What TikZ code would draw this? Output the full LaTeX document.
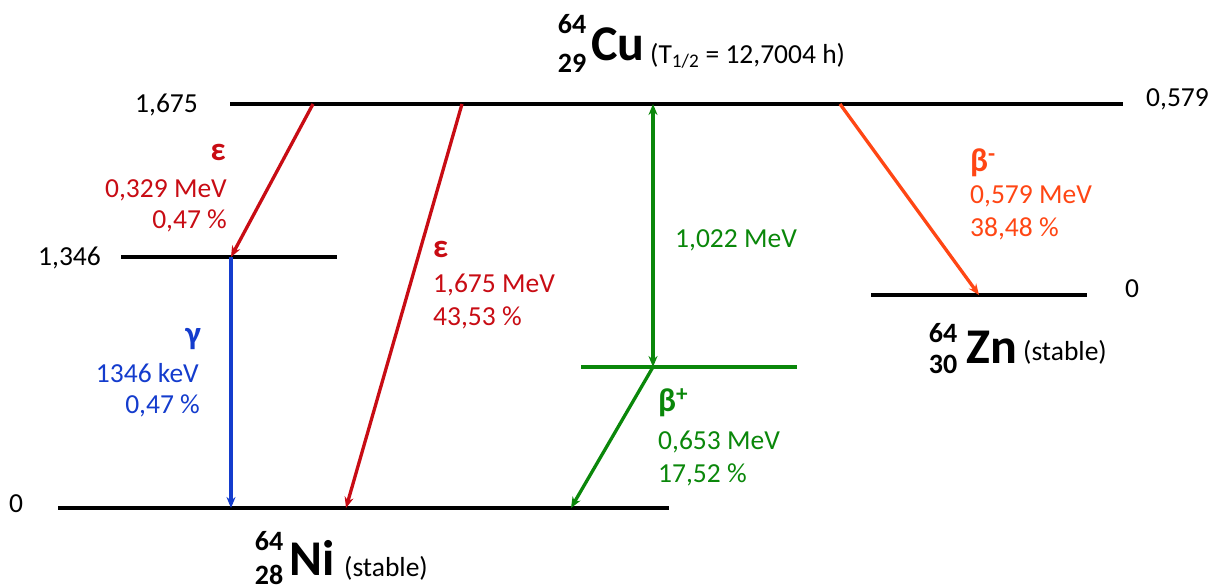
\documentclass[tikz,border=0pt]{standalone}
\usepackage{fontspec}
\setmainfont{Carlito}
\usetikzlibrary{arrows.meta}
\definecolor{redA}{RGB}{200,12,20}
\definecolor{orA}{RGB}{255,70,20}
\definecolor{grA}{RGB}{10,135,10}
\definecolor{blA}{RGB}{20,60,205}
\tikzset{
  level/.style={line width=3.6pt,black},
  arr/.style={line width=3.3pt,-{Stealth[length=11pt,width=9pt]}},
  lab/.style={inner sep=0pt,font=\fontsize{27.5}{30}\selectfont},
  glab/.style={inner sep=0pt,font=\fontsize{33}{36}\selectfont\bfseries},
  mass/.style={inner sep=0pt,font=\fontsize{28}{30}\selectfont\bfseries,anchor=base},
  elem/.style={inner sep=0pt,font=\fontsize{50}{54}\selectfont\bfseries,anchor=base west},
}
\begin{document}
\begin{tikzpicture}[x=1pt,y=-1pt]
\useasboundingbox (0,0) rectangle (1217,587);
% level coordinates
\coordinate (cuL) at (230,104);
\coordinate (cuR) at (1123,104);
\coordinate (n1L) at (121,257);
\coordinate (n1R) at (337,257);
\coordinate (gL) at (581,367);
\coordinate (gR) at (797,367);
\coordinate (niL) at (58,508);
\coordinate (niR) at (669,508);
\coordinate (znL) at (871,295);
\coordinate (znR) at (1087,295);
% arrow end points
\coordinate (e1s) at (313,104);
\coordinate (e1e) at (231,257);
\coordinate (game) at (231,508);
\coordinate (e2s) at (462,104);
\coordinate (e2e) at (346,508);
\coordinate (g1s) at (653,104);
\coordinate (g1e) at (653,367);
\coordinate (bpe) at (571,508);
\coordinate (bms) at (840,104);
\coordinate (bme) at (979,295);
% levels
\draw[level] (cuL) -- (cuR);
\draw[level] (n1L) -- (n1R);
\draw[level,grA] (gL) -- (gR);
\draw[level] (niL) -- (niR);
\draw[level] (znL) -- (znR);
% arrows
\draw[arr,redA] (e1s) -- (e1e);
\draw[arr,blA] (e1e) -- (game);
\draw[arr,redA] (e2s) -- (e2e);
\draw[arr,grA,{Stealth[length=11pt,width=9pt]}-{Stealth[length=11pt,width=9pt]}] (g1s) -- (g1e);
\draw[arr,grA] (g1e) -- (bpe);
\draw[arr,orA] (bms) -- (bme);
% level values
\node[lab,anchor=base east] (v1) at (198,112) {1,675};
\node[lab,anchor=base east] (v2) at (101,265) {1,346};
\node[lab,anchor=base west] (v3) at (1146,106) {0,579};
\node[lab,anchor=base west] (v4) at (1125,297) {0};
\node[lab,anchor=base west] (v5) at (9,512) {0};
% epsilon 1
\node[glab,redA,anchor=base east] (t1a) at (226,160) {ε};
\node[lab,redA,anchor=base east] (t1b) at (227,197) {0,329 MeV};
\node[lab,redA,anchor=base east] (t1c) at (227,228) {0,47 \%};
% gamma
\node[glab,blA,anchor=base east] (t2a) at (201,344) {γ};
\node[lab,blA,anchor=base east] (t2b) at (199,382) {1346 keV};
\node[lab,blA,anchor=base east] (t2c) at (200,413) {0,47 \%};
% epsilon 2
\node[glab,redA,anchor=base west] (t3a) at (433,257) {ε};
\node[lab,redA,anchor=base west] (t3b) at (433,292) {1,675 MeV};
\node[lab,redA,anchor=base west] (t3c) at (433,325) {43,53 \%};
% 1,022
\node[lab,grA,anchor=base west] (t4) at (675,247) {1,022 MeV};
% beta+
\node[glab,grA,anchor=base west] (t5a) at (658,411) {β\textsuperscript{+}};
\node[lab,grA,anchor=base west] (t5b) at (658,449) {0,653 MeV};
\node[lab,grA,anchor=base west] (t5c) at (658,482) {17,52 \%};
% beta-
\node[glab,orA,anchor=base west] (t6a) at (970,171) {β\textsuperscript{-}};
\node[lab,orA,anchor=base west] (t6b) at (970,203) {0,579 MeV};
\node[lab,orA,anchor=base west] (t6c) at (970,236) {38,48 \%};
% Cu
\node[mass] (cuA) at (572,33) {64};
\node[mass] (cuZ) at (572,72) {29};
\node[elem] (cuE) at (591,60) {Cu};
\node[lab,anchor=base west] (cuT) at (650,63) {(T\textsubscript{1/2} = 12,7004 h)};
% Zn
\node[mass] (znA) at (943,342) {64};
\node[mass] (znZ) at (943,373) {30};
\node[elem] (znE) at (966,363) {Zn};
\node[lab,anchor=base west] (znT) at (1023,360) {(stable)};
% Ni
\node[mass] (niA) at (269,550) {64};
\node[mass] (niZ) at (269,584) {28};
\node[elem] (niE) at (289,575) {Ni};
\node[lab,anchor=base west] (niT) at (344,576) {(stable)};
\end{tikzpicture}
\end{document}
